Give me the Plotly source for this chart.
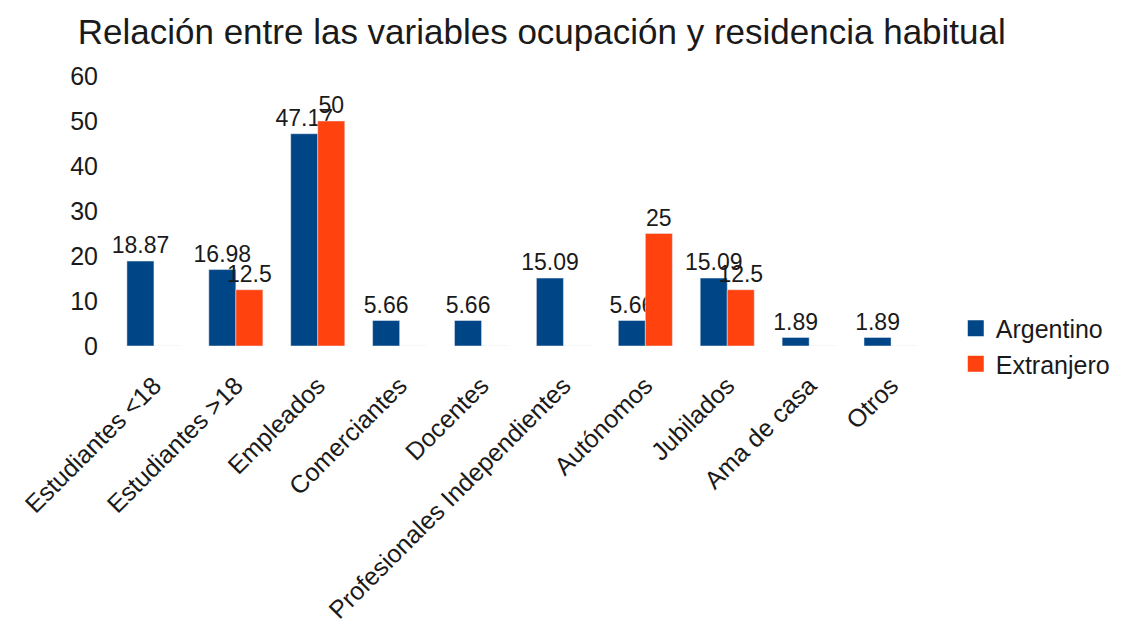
import plotly.graph_objects as go

categories = ["Estudiantes <18", "Estudiantes >18", "Empleados", "Comerciantes", "Docentes",
              "Profesionales Independientes", "Autónomos", "Jubilados", "Ama de casa", "Otros"]
argentino = [18.87, 16.98, 47.17, 5.66, 5.66, 15.09, 5.66, 15.09, 1.89, 1.89]
extranjero = [0, 12.5, 50, 0, 0, 0, 25, 12.5, 0, 0]
y_ticks = [0, 10, 20, 30, 40, 50, 60]
series_names = ["Argentino", "Extranjero"]
series_colors = ["#004586", "#ff420e"]

FONT = "Liberation Sans, Arial, sans-serif"
TXT = "#1a1a1a"

def labels(vals):
    return [f"{v:g}" if v else "" for v in vals]

fig = go.Figure()
for name, vals, col in zip(series_names, [argentino, extranjero], series_colors):
    fig.add_trace(go.Bar(x=categories, y=vals, name=name, marker_color=col,
                         text=labels(vals), textposition="outside", cliponaxis=False,
                         constraintext="none", showlegend=False,
                         textfont=dict(size=23, color=TXT, family=FONT)))
# legend entries with larger square swatches
for name, col in zip(series_names, series_colors):
    fig.add_trace(go.Scatter(x=[None], y=[None], mode="markers", name=name,
                             marker=dict(symbol="square", size=18, color=col)))

fig.update_layout(
    width=1119, height=624,
    paper_bgcolor="white", plot_bgcolor="white",
    font=dict(family=FONT, color=TXT, size=23),
    title=dict(text="Relación entre las variables ocupación y residencia habitual",
               x=0.477, xanchor="center", y=0.9615, yanchor="middle",
               font=dict(size=35, color=TXT, family=FONT)),
    barmode="group", bargap=0.34, bargroupgap=0,
    margin=dict(l=105, r=179, t=68, b=286),
    showlegend=True,
    legend=dict(x=1.029, y=0.0, xanchor="left", yanchor="middle",
                font=dict(size=25, color=TXT, family=FONT),
                itemwidth=30, tracegroupgap=0, bgcolor="rgba(0,0,0,0)"),
    xaxis=dict(tickangle=-45, showgrid=False, showline=False, zeroline=False,
               ticks="outside", ticklen=14, tickcolor="rgba(0,0,0,0)",
               tickfont=dict(size=25, color=TXT, family=FONT), automargin=False),
    yaxis=dict(range=[0, 60], tickvals=y_ticks, showgrid=False, showline=False, zeroline=False,
               ticks="outside", ticklen=9, tickcolor="rgba(0,0,0,0)",
               tickfont=dict(size=25, color=TXT, family=FONT), automargin=False),
)

fig.write_html("out.html")
